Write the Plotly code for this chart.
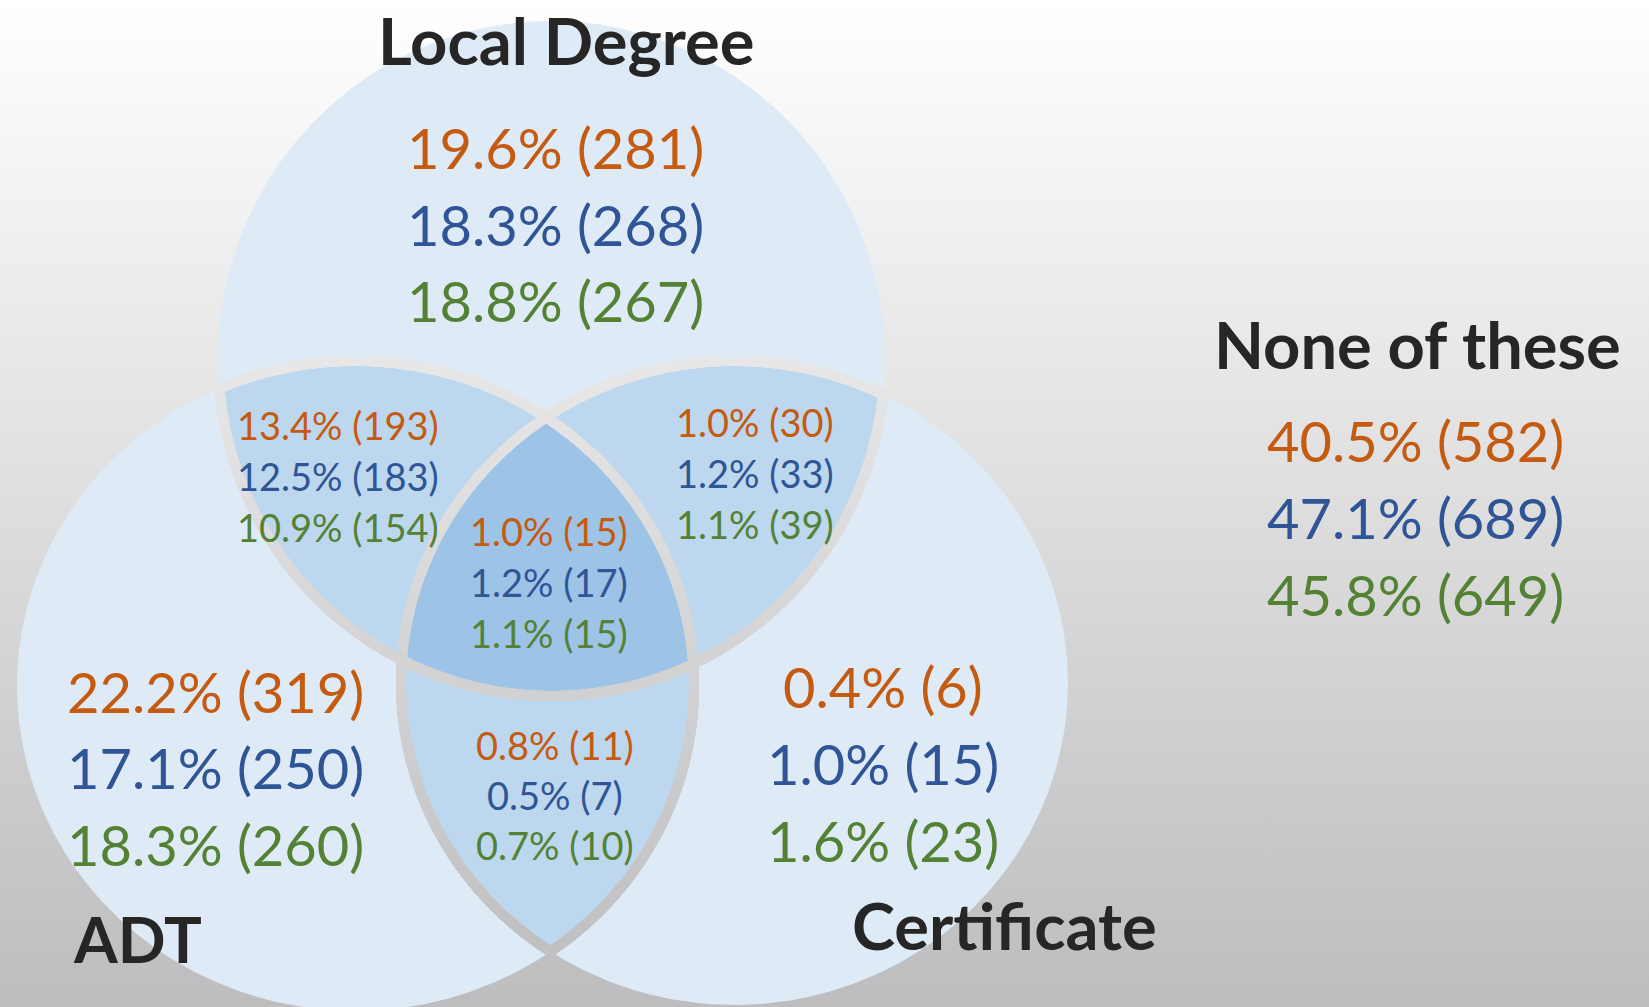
import numpy as np
import plotly.graph_objects as go

# ---------------- data ----------------
set_labels = ["Local Degree", "ADT", "Certificate"]
none_label = "None of these"
regions = ["Local Degree only", "ADT only", "Certificate only",
           "Local Degree & ADT", "Local Degree & Certificate", "ADT & Certificate",
           "All three", "None of these"]
pct_orange = [19.6, 22.2, 0.4, 13.4, 1.0, 0.8, 1.0, 40.5]
n_orange = [281, 319, 6, 193, 30, 11, 15, 582]
pct_blue = [18.3, 17.1, 1.0, 12.5, 1.2, 0.5, 1.2, 47.1]
n_blue = [268, 250, 15, 183, 33, 7, 17, 689]
pct_green = [18.8, 18.3, 1.6, 10.9, 1.1, 0.7, 1.1, 45.8]
n_green = [267, 260, 23, 154, 39, 10, 15, 649]

# ---------------- layout / style ----------------
W, H = 1649, 1007
ORANGE, BLUE, GREEN = "#C55A11", "#2F5597", "#548235"
DARK = "#262626"
FONT = "Lato"
BG_TOP = (255, 255, 255)
BG_BOT = (189, 189, 191)

# ellipse geometry (cx, cy, rx, ry) in page pixels
ELL = {
    "Local Degree": (551.5, 358.5, 333.5, 337.5),
    "ADT": (355.5, 686.0, 338.5, 325.0),
    "Certificate": (734.5, 683.0, 333.5, 322.0),
}

# text anchor per region: (x centre, y of first line, line step, font size)
ANCHOR = {
    "Local Degree only": (555, 147.5, 76.7, 56),
    "ADT only": (215, 691.7, 76.2, 56),
    "Certificate only": (883, 686.7, 77.0, 56),
    "Local Degree & ADT": (337.5, 425.0, 50.8, 38),
    "Local Degree & Certificate": (755, 422.0, 50.8, 38),
    "ADT & Certificate": (555, 745.0, 50.0, 38),
    "All three": (549, 531.0, 50.8, 38),
    "None of these": (1415, 440.8, 76.6, 56),
}
# label centre and font size
LABEL_POS = {
    "Local Degree": (566, 39.5, 65),
    "ADT": (137.5, 938, 63),
    "Certificate": (1004.5, 925, 65),
    "None of these": (1417, 344, 65),
}


def bg_color(y):
    f = np.clip(y / H, 0, 1)
    return tuple(int(round(a + (b - a) * f)) for a, b in zip(BG_TOP, BG_BOT))


def ell_pts(e, n=3000):
    cx, cy, rx, ry = e
    t = np.linspace(0, 2 * np.pi, n, endpoint=False)
    return cx + rx * np.cos(t), cy + ry * np.sin(t)


def inside(e, x, y):
    cx, cy, rx, ry = e
    return ((x - cx) / rx) ** 2 + ((y - cy) / ry) ** 2 <= 1.0


def convex_region(members):
    xs, ys = [], []
    for e in members:
        px, py = ell_pts(e)
        m = np.ones_like(px, dtype=bool)
        for o in members:
            if o is not e:
                m &= inside(o, px, py)
        xs.append(px[m])
        ys.append(py[m])
    x = np.concatenate(xs)
    y = np.concatenate(ys)
    ang = np.arctan2(y - y.mean(), x - x.mean())
    idx = np.argsort(ang)
    x, y = x[idx], y[idx]
    return np.append(x, x[0]), np.append(y, y[0])


fig = go.Figure()

# background gradient
fig.add_trace(go.Scatter(
    x=[0, W, W, 0, 0], y=[0, 0, H, H, 0], mode="lines", line=dict(width=0),
    fill="toself",
    fillgradient=dict(type="vertical", start=0, stop=H,
                      colorscale=[[0, "rgb(%d,%d,%d)" % BG_TOP],
                                  [1, "rgb(%d,%d,%d)" % BG_BOT]]),
    hoverinfo="skip", showlegend=False))

ells = list(ELL.values())
# circles
for e in ells:
    px, py = ell_pts(e)
    fig.add_trace(go.Scatter(x=np.append(px, px[0]), y=np.append(py, py[0]), mode="lines",
                             line=dict(width=0), fill="toself", fillcolor="#DEEBF7",
                             hoverinfo="skip", showlegend=False))
# pairwise overlaps
for a, b in [(0, 1), (0, 2), (1, 2)]:
    x, y = convex_region([ells[a], ells[b]])
    fig.add_trace(go.Scatter(x=x, y=y, mode="lines", line=dict(width=0), fill="toself",
                             fillcolor="#BDD7EE", hoverinfo="skip", showlegend=False))
# triple overlap
x, y = convex_region(ells)
fig.add_trace(go.Scatter(x=x, y=y, mode="lines", line=dict(width=0), fill="toself",
                         fillcolor="#9DC3E6", hoverinfo="skip", showlegend=False))

# separating gaps (show the background through internal arcs)
for e in ells:
    px, py = ell_pts(e, 5000)
    m = np.zeros_like(px, dtype=bool)
    for o in ells:
        if o is not e:
            m |= inside(o, px, py)
    sx, sy = px[m], py[m]
    cols = ["rgb(%d,%d,%d)" % bg_color(v) for v in sy]
    fig.add_trace(go.Scatter(x=sx, y=sy, mode="markers",
                             marker=dict(size=10, color=cols, line=dict(width=0)),
                             hoverinfo="skip", showlegend=False))

# numbers
series = [(pct_orange, n_orange, ORANGE), (pct_blue, n_blue, BLUE), (pct_green, n_green, GREEN)]
for i, reg in enumerate(regions):
    ax, ay, step, size = ANCHOR[reg]
    for k, (pcts, ns, col) in enumerate(series):
        fig.add_annotation(x=ax, y=ay + k * step, text=f"{pcts[i]:.1f}% ({ns[i]})",
                           showarrow=False, xanchor="center", yanchor="middle",
                           font=dict(family=FONT, size=size, color=col))

# set labels
for lab in set_labels + [none_label]:
    lx, ly, ls = LABEL_POS[lab]
    fig.add_annotation(x=lx, y=ly, text=f"<b>{lab}</b>", showarrow=False,
                       xanchor="center", yanchor="middle",
                       font=dict(family=FONT, size=ls, color=DARK))

fig.update_layout(
    width=W, height=H, margin=dict(l=0, r=0, t=0, b=0),
    paper_bgcolor="white", plot_bgcolor="white", showlegend=False,
    xaxis=dict(range=[0, W], visible=False, fixedrange=True),
    yaxis=dict(range=[H, 0], visible=False, fixedrange=True),
)

fig.write_html("out.html", config={"displayModeBar": False},
               post_script="document.body.style.margin='0';document.body.style.overflow='hidden';")
